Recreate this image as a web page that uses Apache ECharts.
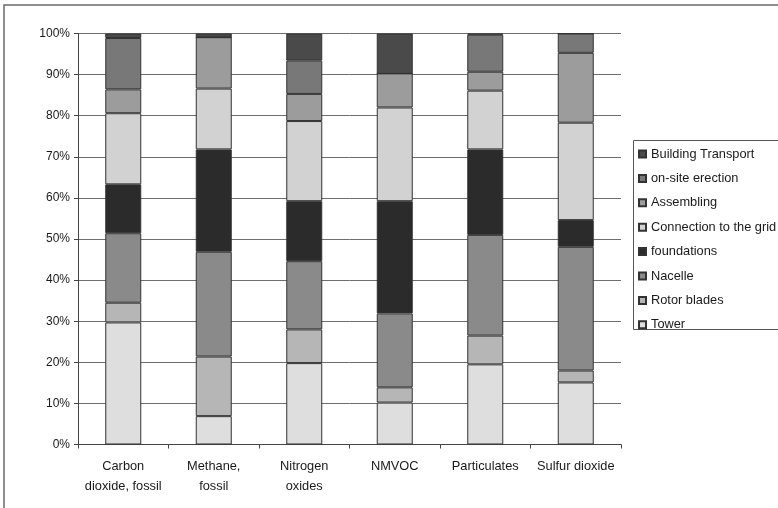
<!DOCTYPE html>
<html>
<head>
<meta charset="utf-8">
<script src="https://cdn.jsdelivr.net/npm/echarts@6/dist/echarts.min.js"></script>
<style>
  html, body { margin: 0; padding: 0; background: #fff; }
  #chart { width: 778px; height: 508px; }
</style>
</head>
<body>
<div id="chart"></div>
<script>
// Share of each wind-turbine life-cycle stage in selected emissions (%)
const categories = ['Carbon\ndioxide, fossil', 'Methane,\nfossil', 'Nitrogen\noxides', 'NMVOC', 'Particulates', 'Sulfur dioxide'];

// Stacked from bottom (Tower) to top (Building Transport)
const tower              = [29.7,  6.9, 19.8, 10.2, 19.5, 15.1];
const rotorBlades        = [ 4.8, 14.5,  8.2,  3.7,  7.0,  2.9];
const nacelle            = [16.9, 25.5, 16.6, 18.0, 24.5, 30.1];
const foundations        = [11.9, 24.9, 14.6, 27.3, 20.8,  6.5];
const connectionToGrid   = [17.3, 14.8, 19.5, 22.8, 14.3, 23.7];
const assembling         = [ 5.8, 12.5,  6.6,  8.3,  4.6, 17.0];
const onSiteErection     = [12.5,  0.0,  8.1,  0.0,  9.0,  4.7];
const buildingTransport  = [ 1.1,  0.9,  6.6,  9.7,  0.3,  0.0];

const yTicks = { min: 0, max: 100, interval: 10 };

const seriesDefs = [
  { name: 'Tower', data: tower, color: '#dedede' },
  { name: 'Rotor blades', data: rotorBlades, color: '#b6b6b6' },
  { name: 'Nacelle', data: nacelle, color: '#8a8a8a' },
  { name: 'foundations', data: foundations, color: '#2b2b2b' },
  { name: 'Connection to the grid', data: connectionToGrid, color: '#d2d2d2' },
  { name: 'Assembling', data: assembling, color: '#9c9c9c' },
  { name: 'on-site erection', data: onSiteErection, color: '#787878' },
  { name: 'Building Transport', data: buildingTransport, color: '#4a4a4a' }
];

const font = 'Liberation Sans, Arial, sans-serif';
const chart = echarts.init(document.getElementById('chart'), null, { renderer: 'canvas' });

chart.setOption({
  animation: false,
  backgroundColor: '#ffffff',
  textStyle: { fontFamily: font },
  graphic: [
    { type: 'rect', shape: { x: 4, y: 5, width: 800, height: 600 },
      style: { fill: 'none', stroke: '#6a6a6a', lineWidth: 1.5 }, z: -1 },
    { type: 'rect', shape: { x: 633.5, y: 140.5, width: 200, height: 189 },
      style: { fill: '#ffffff', stroke: '#555555', lineWidth: 1 }, z: 0 }
  ],
  grid: { left: 78, right: 157, top: 33.5, bottom: 63.5, containLabel: false },
  legend: {
    orient: 'vertical',
    left: 633,
    top: 140,
    padding: [7, 5, 5, 5],
    itemWidth: 7,
    itemHeight: 7,
    itemGap: 10.4,
    icon: 'rect',
    selectedMode: false,
    z: 5,
    data: seriesDefs.map(s => s.name).reverse(),
    textStyle: { fontFamily: font, fontSize: 12.8, color: '#1a1a1a', lineHeight: 14 }
  },
  xAxis: {
    type: 'category',
    data: categories,
    axisLine: { lineStyle: { color: '#444', width: 1 } },
    axisTick: { show: true, length: 4, lineStyle: { color: '#444' } },
    axisLabel: { fontFamily: font, fontSize: 12.8, color: '#1a1a1a', lineHeight: 20, margin: 12, interval: 0 }
  },
  yAxis: {
    type: 'value',
    min: yTicks.min,
    max: yTicks.max,
    interval: yTicks.interval,
    axisLine: { show: true, lineStyle: { color: '#444', width: 1 } },
    axisTick: { show: true, length: 4, lineStyle: { color: '#444' } },
    axisLabel: { fontFamily: font, fontSize: 12, color: '#1a1a1a', margin: 8, formatter: '{value}%' },
    splitLine: { show: true, lineStyle: { color: '#6e6e6e', width: 1 } }
  },
  series: seriesDefs.map(s => ({
    type: 'bar',
    name: s.name,
    stack: 'total',
    data: s.data,
    barWidth: 36,
    itemStyle: { color: s.color, borderColor: '#333333', borderWidth: 1 },
    emphasis: { disabled: true }
  }))
});
</script>
</body>
</html>
